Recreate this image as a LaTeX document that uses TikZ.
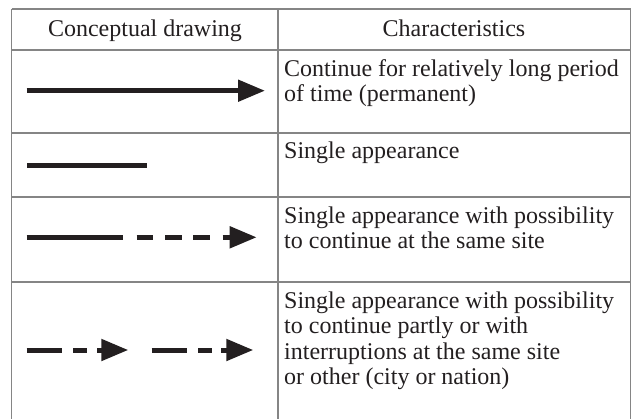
\documentclass[tikz,border=0pt]{standalone}
\usepackage{fontspec}
\setmainfont{Liberation Serif}
\usetikzlibrary{arrows.meta}
\definecolor{ink}{HTML}{231F20}
\definecolor{rule}{HTML}{858585}
\tikzset{
  grid/.style={draw=rule, line width=1.5pt},
  heavy/.style={draw=ink, line width=5pt},
  tipd/.style={-{Triangle[length=27pt,width=21pt]}},
  celltext/.style={anchor=base west, inner sep=0pt, align=left, text=ink,
    font=\fontsize{24}{25.5}\selectfont},
  headtext/.style={anchor=base, inner sep=0pt, text=ink,
    font=\fontsize{24}{25.5}\selectfont}
}
\begin{document}
\begin{tikzpicture}[x=1pt,y=-1pt]
\useasboundingbox (0,0) rectangle (632,418);
% table rules
\draw[grid] (11.5,9) -- (630.5,9);
\draw[grid] (11.5,50) -- (630.5,50);
\draw[grid] (11.5,133) -- (630.5,133);
\draw[grid] (11.5,197) -- (630.5,197);
\draw[grid] (11.5,282) -- (630.5,282);
\draw[grid] (11.5,9) -- (11.5,420);
\draw[grid] (278,9) -- (278,420);
\draw[grid] (630.5,9) -- (630.5,420);
% header
\node[headtext] (h1) at (145,36) {Conceptual drawing};
\node[headtext] (h2) at (454,36) {Characteristics};
% row 1
\draw[heavy,tipd] (26.7,90.7) -- (265,90.7);
\node[celltext] (t1) at (284,101.5) {Continue for relatively long period\\of time (permanent)};
% row 2
\draw[heavy] (27,165) -- (147,165);
\node[celltext] (t2) at (284,158.5) {Single appearance};
% row 3
\draw[heavy] (26.7,237.3) -- (122.7,237.3);
\draw[heavy] (136.7,237.3) -- (153.3,237.3);
\draw[heavy] (165,237.3) -- (181.7,237.3);
\draw[heavy] (193.3,237.3) -- (210,237.3);
\draw[heavy,tipd] (222.7,237.3) -- (256.7,237.3);
\node[celltext] (t3) at (284,248.5) {Single appearance with possibility\\to continue at the same site};
% row 4
\draw[heavy] (26.7,350) -- (61.7,350);
\draw[heavy] (73.3,350) -- (87.3,350);
\draw[heavy,tipd] (97.3,350) -- (128.3,350);
\draw[heavy] (151.7,350) -- (186.7,350);
\draw[heavy] (198.3,350) -- (212.3,350);
\draw[heavy,tipd] (221,350) -- (253.3,350);
\node[celltext] (t4) at (284,384.5) {Single appearance with possibility\\to continue partly or with\\interruptions at the same site\\or other (city or nation)};
\end{tikzpicture}
\end{document}
